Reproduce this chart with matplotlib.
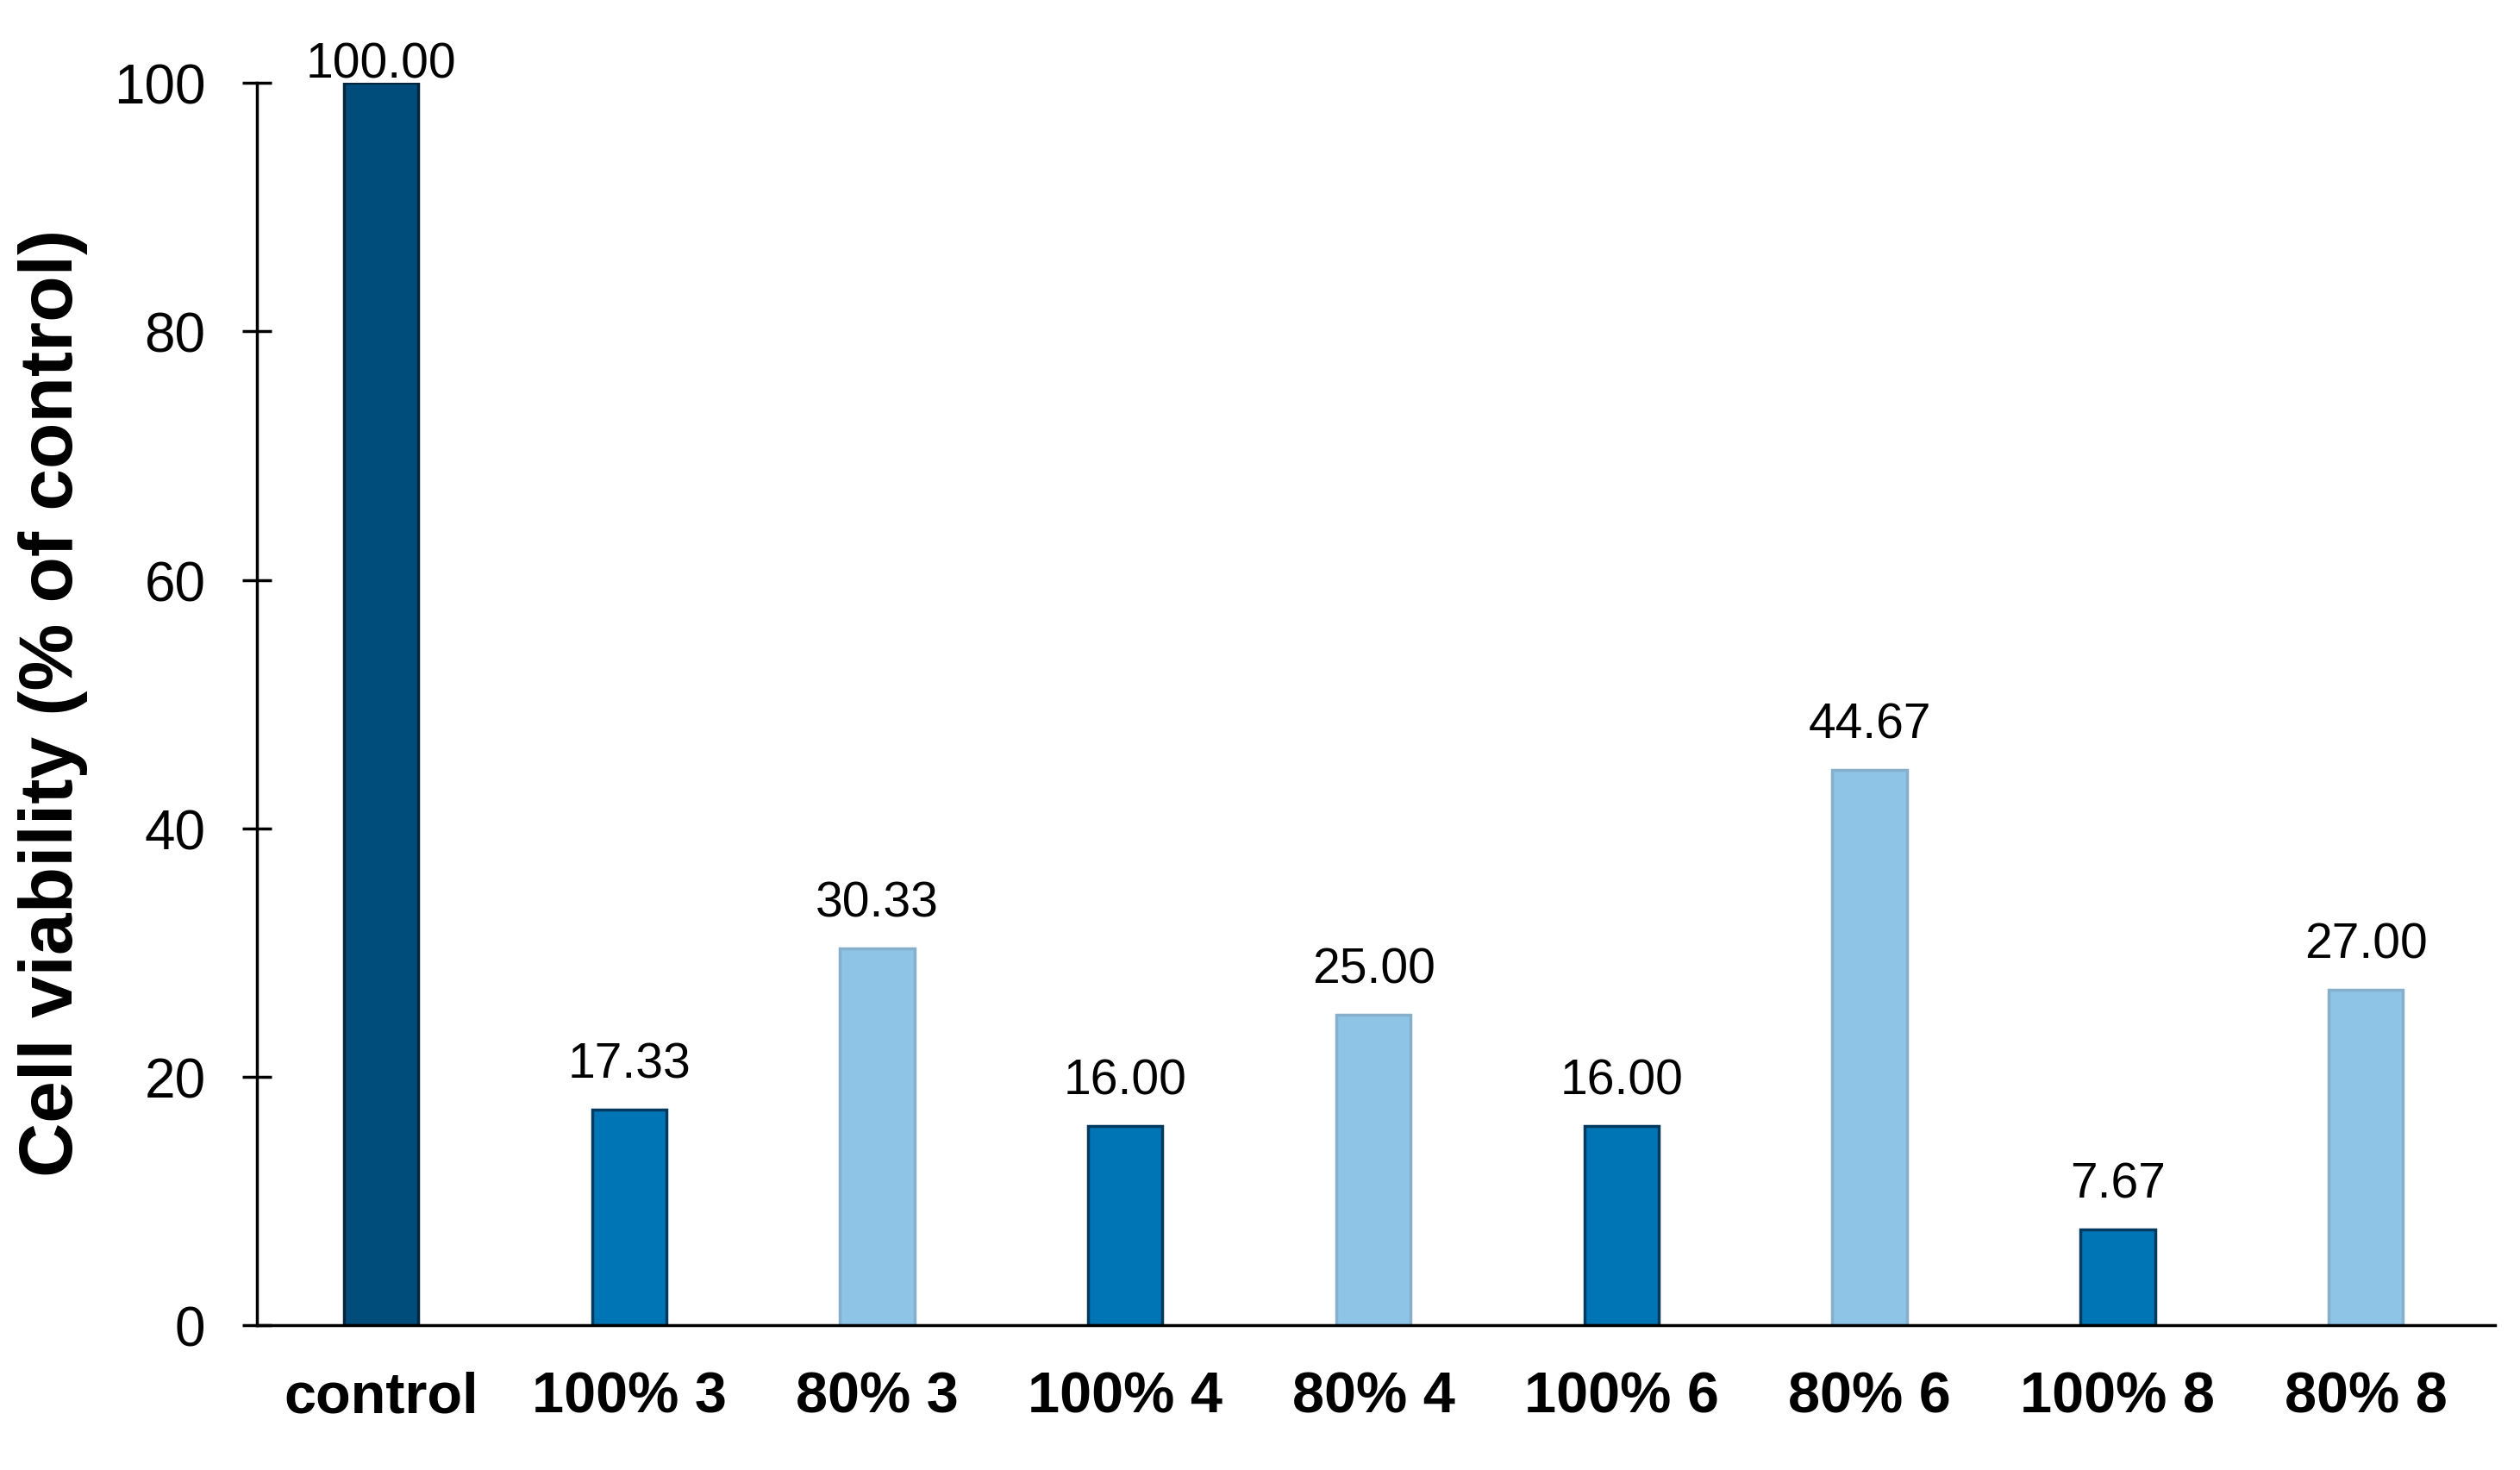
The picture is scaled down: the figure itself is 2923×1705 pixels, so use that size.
import matplotlib
matplotlib.use("Agg")
import matplotlib.pyplot as plt

categories = ["control", "100% 3", "80% 3", "100% 4", "80% 4", "100% 6", "80% 6", "100% 8", "80% 8"]
values = [100.00, 17.33, 30.33, 16.00, 25.00, 16.00, 44.67, 7.67, 27.00]
value_labels = ["100.00", "17.33", "30.33", "16.00", "25.00", "16.00", "44.67", "7.67", "27.00"]
y_ticks = [0, 20, 40, 60, 80, 100]

colors = ["#004C7A", "#0075B6", "#8EC4E6", "#0075B6", "#8EC4E6", "#0075B6", "#8EC4E6", "#0075B6", "#8EC4E6"]
edges = ["#00263f", "#003a5e", "#86afcc", "#003a5e", "#86afcc", "#003a5e", "#86afcc", "#003a5e", "#86afcc"]

plt.rcParams['font.family'] = ['Liberation Sans', 'DejaVu Sans']

fig = plt.figure(figsize=(29.23, 17.06), dpi=100)
ax = fig.add_axes([0.102, 0.0985, 0.888, 0.8445])

x = list(range(len(categories)))
ax.bar(x, values, width=0.3, color=colors, edgecolor=edges, linewidth=2.5, zorder=2)

for i, (v, lab) in enumerate(zip(values, value_labels)):
    off = 5 if v >= 99 else 27
    ax.annotate(lab, (i, v), xytext=(0, off), textcoords="offset points",
                ha="center", va="baseline", fontsize=41, color="black",
                annotation_clip=False)

ax.set_xlim(-0.5, 8.52)
ax.set_ylim(0, 100)
ax.set_yticks(y_ticks)
ax.set_yticklabels([str(t) for t in y_ticks])
ax.set_xticks(x)
ax.set_xticklabels(categories, fontsize=48, fontweight="bold")

for s in ["top", "right"]:
    ax.spines[s].set_visible(False)
for s in ["left", "bottom"]:
    ax.spines[s].set_linewidth(2.5)
    ax.spines[s].set_color("black")

ax.tick_params(axis="y", direction="inout", length=24, width=2.5, labelsize=46, pad=31)
ax.tick_params(axis="x", length=0, pad=38)

fig.text(0.0212, 0.522, "Cell viability (% of control)", rotation=90,
         ha="center", va="center", fontsize=63, fontweight="bold")

fig.savefig("out.png", dpi=100, facecolor="white")
